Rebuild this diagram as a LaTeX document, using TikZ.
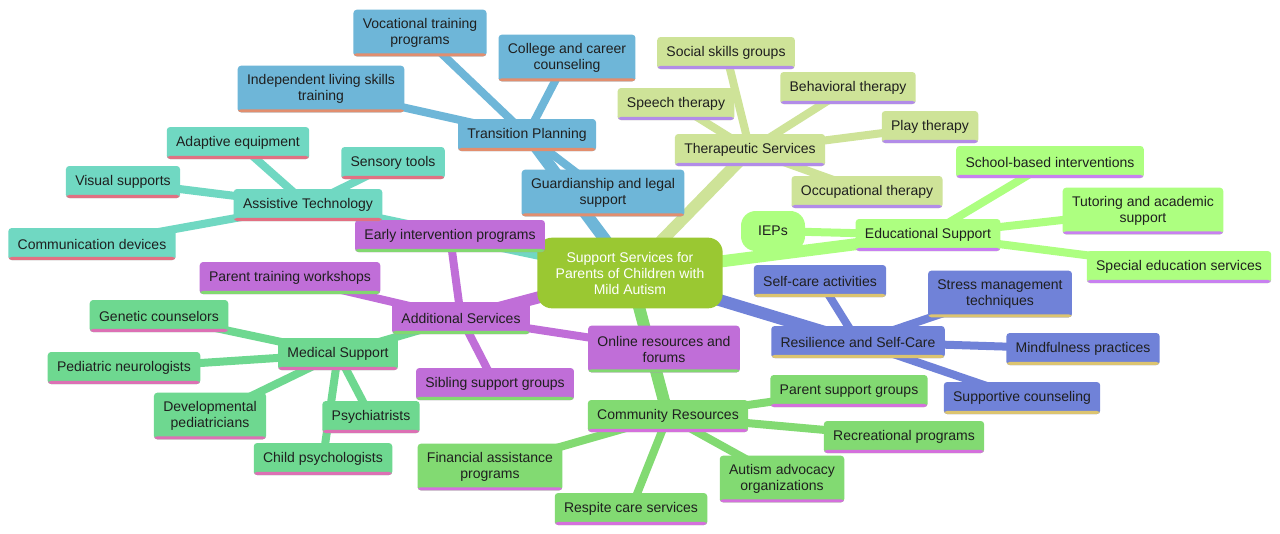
\documentclass[tikz,border=0pt]{standalone}
\usepackage{fontspec}
\setmainfont{Liberation Sans}
\usetikzlibrary{backgrounds}

\definecolor{rootcol}{RGB}{154,200,50}
\definecolor{transcol}{RGB}{110,182,216}
\definecolor{transul}{RGB}{226,142,110}
\definecolor{therapcol}{RGB}{206,227,152}
\definecolor{therapul}{RGB}{178,140,232}
\definecolor{educol}{RGB}{173,255,128}
\definecolor{eduul}{RGB}{200,128,240}
\definecolor{resilcol}{RGB}{112,130,216}
\definecolor{resilul}{RGB}{220,196,112}
\definecolor{commcol}{RGB}{130,218,114}
\definecolor{commul}{RGB}{212,112,220}
\definecolor{addcol}{RGB}{192,110,216}
\definecolor{addul}{RGB}{130,216,112}
\definecolor{medcol}{RGB}{110,216,144}
\definecolor{medul}{RGB}{220,112,180}
\definecolor{assistcol}{RGB}{112,216,194}
\definecolor{assistul}{RGB}{226,112,130}

\tikzset{
  box/.style={rectangle, rounded corners=2.5pt, inner xsep=7pt, inner ysep=0pt,
    minimum height=24pt, align=center, text=black!88,
    font=\fontsize{10.5}{12}\selectfont},
  two/.style={minimum height=35pt},
  ul/.style={path picture={\fill[#1] ([yshift=2.3pt]path picture bounding box.south west)
    rectangle (path picture bounding box.south east);}},
  trans/.style={box, fill=transcol, ul=transul},
  therap/.style={box, fill=therapcol, ul=therapul},
  edu/.style={box, fill=educol, ul=eduul},
  resil/.style={box, fill=resilcol, ul=resilul},
  comm/.style={box, fill=commcol, ul=commul},
  addit/.style={box, fill=addcol, ul=addul},
  medic/.style={box, fill=medcol, ul=medul},
  assist/.style={box, fill=assistcol, ul=assistul},
  mainline/.style={line width=9pt},
  leafline/.style={line width=6pt}
}

\begin{document}
\begin{tikzpicture}[x=0.75pt, y=-0.75pt]
\useasboundingbox (0,0) rectangle (1280,533);

\node[box, fill=rootcol, text=white, rounded corners=11pt, minimum width=139pt,
  minimum height=53pt] (root) at (630,273) {Support Services for\\Parents of Children with\\Mild Autism};

\node[trans] (tp) at (527,135) {Transition Planning};
\node[trans, two] (voc) at (420,33) {Vocational training\\programs};
\node[trans, two] (college) at (567,58) {College and career\\counseling};
\node[trans, two] (indep) at (321,89) {Independent living skills\\training};
\node[trans, two] (guard) at (603,193) {Guardianship and legal\\support};

\node[therap] (ts) at (750,150) {Therapeutic Services};
\node[therap] (social) at (726,53) {Social skills groups};
\node[therap] (speech) at (676,104) {Speech therapy};
\node[therap] (behav) at (848,88) {Behavioral therapy};
\node[therap] (play) at (930,127) {Play therapy};
\node[therap] (occup) at (867,192) {Occupational therapy};

\node[edu] (es) at (928,235) {Educational Support};
\node[edu] (school) at (1050,162) {School-based interventions};
\node[edu, two] (tutor) at (1143,211) {Tutoring and academic\\support};
\node[edu] (special) at (1179,267) {Special education services};
\node[box, fill=educol, rounded corners=11pt, minimum width=48pt, minimum height=30pt] (ieps) at (773,231) {IEPs};

\node[resil] (rs) at (858,342) {Resilience and Self-Care};
\node[resil] (selfcare) at (820,281) {Self-care activities};
\node[resil, two] (stress) at (1000,294) {Stress management\\techniques};
\node[resil] (mindful) at (1083,349) {Mindfulness practices};
\node[resil] (supcouns) at (1022,398) {Supportive counseling};

\node[comm] (cr) at (668,416) {Community Resources};
\node[comm] (parentsup) at (849,391) {Parent support groups};
\node[comm] (recr) at (904,437) {Recreational programs};
\node[comm, two] (advoc) at (782,479) {Autism advocacy\\organizations};
\node[comm] (respite) at (631,509) {Respite care services};
\node[comm, two] (finance) at (490,467) {Financial assistance\\programs};

\node[addit] (as) at (461,318) {Additional Services};
\node[addit] (early) at (450,236) {Early intervention programs};
\node[addit] (ptw) at (290,278) {Parent training workshops};
\node[addit, two] (online) at (664,349) {Online resources and\\forums};
\node[addit] (sibling) at (495,384) {Sibling support groups};

\node[medic] (ms) at (338,354) {Medical Support};
\node[medic] (genetic) at (159,316) {Genetic counselors};
\node[medic] (pedneuro) at (124,368) {Pediatric neurologists};
\node[medic, two] (devped) at (210,416) {Developmental\\pediatricians};
\node[medic] (psych) at (371,417) {Psychiatrists};
\node[medic] (childpsy) at (323,459) {Child psychologists};

\node[assist] (at) at (308,205) {Assistive Technology};
\node[assist] (adaptive) at (238,143) {Adaptive equipment};
\node[assist] (sensory) at (393,163) {Sensory tools};
\node[assist] (visual) at (123,182) {Visual supports};
\node[assist] (commdev) at (92,244) {Communication devices};

\begin{scope}[on background layer]
\fill[white] (0,0) rectangle (1280,533);
\draw[mainline, transcol] (root.center) -- (tp.center);
\draw[leafline, transcol] (tp.center) -- (voc.center);
\draw[leafline, transcol] (tp.center) -- (college.center);
\draw[leafline, transcol] (tp.center) -- (indep.center);
\draw[leafline, transcol] (tp.center) -- (guard.center);

\draw[mainline, therapcol] (root.center) -- (ts.center);
\draw[leafline, therapcol] (ts.center) -- (social.center);
\draw[leafline, therapcol] (ts.center) -- (speech.center);
\draw[leafline, therapcol] (ts.center) -- (behav.center);
\draw[leafline, therapcol] (ts.center) -- (play.center);
\draw[leafline, therapcol] (ts.center) -- (occup.center);

\draw[mainline, educol] (root.center) -- (es.center);
\draw[leafline, educol] (es.center) -- (school.center);
\draw[leafline, educol] (es.center) -- (tutor.center);
\draw[leafline, educol] (es.center) -- (special.center);
\draw[leafline, educol] (es.center) -- (ieps.center);

\draw[mainline, resilcol] (root.center) -- (rs.center);
\draw[leafline, resilcol] (rs.center) -- (selfcare.center);
\draw[leafline, resilcol] (rs.center) -- (stress.center);
\draw[leafline, resilcol] (rs.center) -- (mindful.center);
\draw[leafline, resilcol] (rs.center) -- (supcouns.center);

\draw[mainline, commcol] (root.center) -- (cr.center);
\draw[leafline, commcol] (cr.center) -- (parentsup.center);
\draw[leafline, commcol] (cr.center) -- (recr.center);
\draw[leafline, commcol] (cr.center) -- (advoc.center);
\draw[leafline, commcol] (cr.center) -- (respite.center);
\draw[leafline, commcol] (cr.center) -- (finance.center);

\draw[mainline, addcol] (root.center) -- (as.center);
\draw[leafline, addcol] (as.center) -- (early.center);
\draw[leafline, addcol] (as.center) -- (ptw.center);
\draw[leafline, addcol] (as.center) -- (online.center);
\draw[leafline, addcol] (as.center) -- (sibling.center);
\draw[leafline, medcol] (as.center) -- (ms.center);

\draw[leafline, medcol] (ms.center) -- (genetic.center);
\draw[leafline, medcol] (ms.center) -- (pedneuro.center);
\draw[leafline, medcol] (ms.center) -- (devped.center);
\draw[leafline, medcol] (ms.center) -- (psych.center);
\draw[leafline, medcol] (ms.center) -- (childpsy.center);

\draw[mainline, assistcol] (root.center) -- (at.center);
\draw[leafline, assistcol] (at.center) -- (adaptive.center);
\draw[leafline, assistcol] (at.center) -- (sensory.center);
\draw[leafline, assistcol] (at.center) -- (visual.center);
\draw[leafline, assistcol] (at.center) -- (commdev.center);
\end{scope}
\end{tikzpicture}
\end{document}
